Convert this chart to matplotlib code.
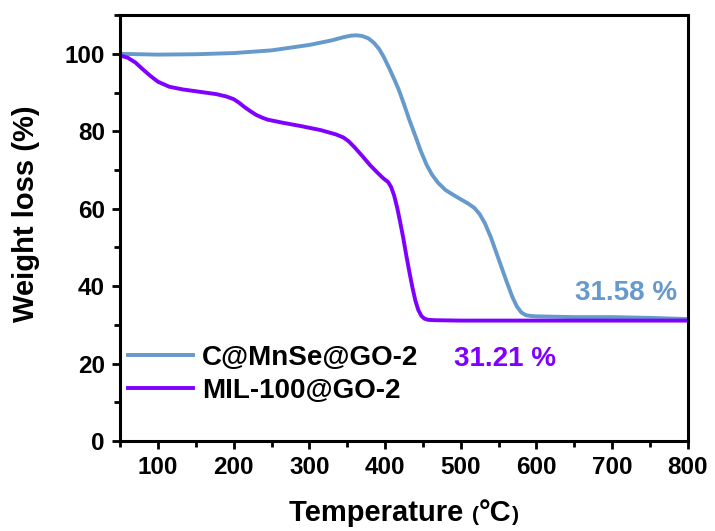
import matplotlib
matplotlib.use("Agg")
import matplotlib.pyplot as plt
from matplotlib.ticker import MultipleLocator
from matplotlib.offsetbox import TextArea, HPacker, AnnotationBbox

plt.rcParams['font.family'] = ['Liberation Sans', 'DejaVu Sans']
plt.rcParams['font.weight'] = 'bold'

# C@MnSe@GO-2
temp_a = [50, 75, 100, 150, 200, 250, 300, 330, 345, 355, 362, 370, 378, 385, 392, 398,
          405, 412, 418, 425, 432, 440, 447, 455, 462, 470, 480, 495, 510, 518, 525, 532,
          540, 550, 560, 568, 574, 580, 586, 592, 600, 650, 700, 750, 800]
wt_a = [100.0, 99.9, 99.8, 99.9, 100.2, 100.9, 102.3, 103.5, 104.3, 104.7, 104.8, 104.6,
        104.0, 102.9, 101.3, 99.3, 96.5, 93.5, 90.8, 87.0, 83.0, 78.8, 75.0, 71.3, 68.8,
        66.7, 64.8, 63.0, 61.3, 60.2, 58.6, 56.2, 52.5, 47.0, 41.5, 37.3, 34.8, 33.2,
        32.5, 32.3, 32.2, 32.0, 32.0, 31.8, 31.5]

# MIL-100@GO-2
temp_b = [50, 60, 70, 80, 90, 100, 115, 133, 155, 177, 190, 200, 207, 214, 222, 230, 238,
          245, 255, 265, 290, 315, 335, 345, 352, 360, 370, 380, 390, 398, 404, 408, 412,
          416, 420, 424, 428, 432, 436, 440, 444, 448, 452, 457, 465, 500, 600, 700, 800]
wt_b = [99.6, 99.0, 97.8, 96.0, 94.3, 92.8, 91.5, 90.8, 90.2, 89.6, 89.0, 88.3, 87.4, 86.3,
        85.2, 84.2, 83.5, 83.0, 82.6, 82.2, 81.3, 80.3, 79.2, 78.4, 77.4, 75.8, 73.6, 71.3,
        69.3, 67.8, 66.9, 65.6, 63.4, 60.3, 56.5, 52.5, 48.0, 43.8, 39.8, 36.3, 33.8, 32.3,
        31.6, 31.3, 31.2, 31.1, 31.1, 31.1, 31.1]

labels = ["C@MnSe@GO-2", "MIL-100@GO-2"]
colors = ["#6699CC", "#8000FF"]
residues = ["31.58 %", "31.21 %"]

fig = plt.figure(figsize=(7.15, 5.31), dpi=100)
ax = fig.add_axes([0.168, 0.1695, 0.794, 0.802])

ax.plot(temp_a, wt_a, color=colors[0], lw=2.8, label=labels[0], solid_joinstyle='round')
ax.plot(temp_b, wt_b, color=colors[1], lw=2.8, label=labels[1], solid_joinstyle='round')

ax.set_xlim(50, 800)
ax.set_ylim(0, 110)
ax.xaxis.set_major_locator(MultipleLocator(100))
ax.xaxis.set_minor_locator(MultipleLocator(50))
ax.yaxis.set_major_locator(MultipleLocator(20))
ax.yaxis.set_minor_locator(MultipleLocator(10))
for s in ax.spines.values():
    s.set_linewidth(2.2)
ax.tick_params(which='major', length=6, width=2, labelsize=17.5, direction='out', pad=5)
ax.tick_params(which='minor', length=4, width=2, direction='out')
for lab in ax.get_xticklabels() + ax.get_yticklabels():
    lab.set_fontweight('bold')

ax.set_ylabel("Weight loss (%)", fontsize=21, fontweight='bold')
ax.yaxis.set_label_coords(-0.142, 0.534)

# x label with smaller parentheses
parts = [TextArea("Temperature ", textprops=dict(size=21, weight='bold')),
         TextArea("(", textprops=dict(size=15, weight='bold')),
         TextArea("°C", textprops=dict(size=21, weight='bold')),
         TextArea(")", textprops=dict(size=15, weight='bold'))]
pack = HPacker(children=parts, align="baseline", pad=0, sep=0)
ab = AnnotationBbox(pack, (0.5, -0.168), xycoords='axes fraction',
                    box_alignment=(0.5, 0.5), frameon=False, annotation_clip=False)
ax.add_artist(ab)

ax.text(718, 38.2, residues[0], color=colors[0], fontsize=20, fontweight='bold',
        ha='center', va='center')
ax.text(559, 21.3, residues[1], color=colors[1], fontsize=20, fontweight='bold',
        ha='center', va='center')

ax.legend(loc='center left', bbox_to_anchor=(0.014, 0.156), frameon=False,
          handlelength=2.35, handletextpad=0.3, labelspacing=0.25,
          borderaxespad=0, borderpad=0, prop={'weight': 'bold', 'size': 20})

fig.savefig("out.png", dpi=100)
